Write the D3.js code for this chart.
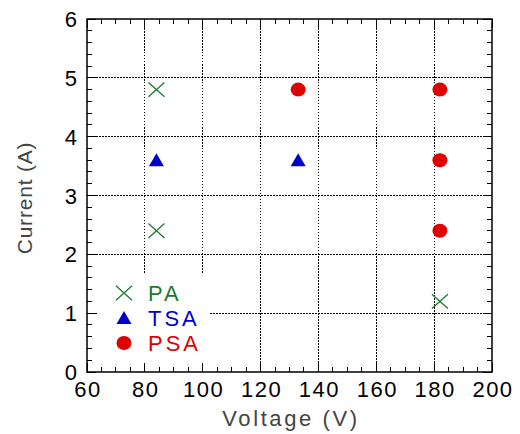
<!DOCTYPE html>
<html><head><meta charset="utf-8">
<script src="https://cdn.jsdelivr.net/npm/d3@7"></script>
<style>html,body{margin:0;padding:0;background:#fff;}svg{display:block;}</style>
</head><body>
<svg id="c" width="520" height="434"></svg>
<script>
const paV = [84, 84, 182];
const paI = [4.8, 2.4, 1.2];
const tsaV = [84, 133];
const tsaI = [3.6, 3.6];
const psaV = [133, 182, 182, 182];
const psaI = [4.8, 4.8, 3.6, 2.4];
const xTicks = [60, 80, 100, 120, 140, 160, 180, 200];
const yTicks = [0, 1, 2, 3, 4, 5, 6];
const legendNames = ["PA", "TSA", "PSA"];

const svg = d3.select("#c");
const L = 87, R = 492, T = 19, B = 372;
const x = d3.scaleLinear().domain([60, 200]).range([L, R]);
const y = d3.scaleLinear().domain([0, 6]).range([B, T]);
const font = "'Liberation Sans', Arial, sans-serif";

// grid
const g = svg.append("g");
g.selectAll(".gx").data(xTicks.slice(1, -1)).enter().append("line")
  .attr("x1", d => x(d)).attr("x2", d => x(d)).attr("y1", T).attr("y2", B)
  .attr("stroke", "#000").attr("stroke-width", 1).attr("stroke-dasharray", "1.5,1.5").attr("shape-rendering", "crispEdges");
g.selectAll(".gy").data(yTicks.slice(1, -1)).enter().append("line")
  .attr("x1", L).attr("x2", R).attr("y1", d => y(d)).attr("y2", d => y(d))
  .attr("stroke", "#000").attr("stroke-width", 1).attr("stroke-dasharray", "1.5,1.5").attr("shape-rendering", "crispEdges");

// legend background
svg.append("rect").attr("x", 97).attr("y", 273).attr("width", 113).attr("height", 93).attr("fill", "#fff");

// axes with inward ticks
function axisTicks() {
  const minorX = d3.range(60, 200.01, 5);
  const minorY = d3.range(0, 6.001, 0.2);
  const t = svg.append("g").attr("stroke", "#000").attr("stroke-width", 1).attr("shape-rendering", "crispEdges");
  minorX.forEach(v => {
    const major = Math.abs(v % 20) < 1e-6;
    const len = major ? 9 : 5;
    t.append("line").attr("x1", x(v)).attr("x2", x(v)).attr("y1", B).attr("y2", B - len);
    t.append("line").attr("x1", x(v)).attr("x2", x(v)).attr("y1", T).attr("y2", T + len);
  });
  minorY.forEach(v => {
    const major = Math.abs(v - Math.round(v)) < 1e-6;
    const len = major ? 9 : 5;
    t.append("line").attr("y1", y(v)).attr("y2", y(v)).attr("x1", L).attr("x2", L + len);
    t.append("line").attr("y1", y(v)).attr("y2", y(v)).attr("x1", R).attr("x2", R - len);
  });
}
axisTicks();
svg.append("rect").attr("x", L).attr("y", T).attr("width", R - L).attr("height", B - T)
  .attr("fill", "none").attr("stroke", "#000").attr("stroke-width", 1.5);

// tick labels
svg.selectAll(".xl").data(xTicks).enter().append("text")
  .attr("x", d => x(d) + 1).attr("y", 397).attr("text-anchor", "middle")
  .attr("font-family", font).attr("font-size", 22).attr("letter-spacing", 1.5).attr("fill", "#000").text(d => d);
svg.selectAll(".yl").data(yTicks).enter().append("text")
  .attr("x", 77).attr("y", d => y(d) + 8).attr("text-anchor", "end")
  .attr("font-family", font).attr("font-size", 22).attr("fill", "#000").text(d => d);

// axis titles
svg.append("text").attr("x", 291).attr("y", 426).attr("text-anchor", "middle")
  .attr("font-family", font).attr("font-size", 22).attr("letter-spacing", 2.6).attr("fill", "#444").text("Voltage (V)");
svg.append("text").attr("transform", "translate(32,198) rotate(-90)").attr("text-anchor", "middle")
  .attr("font-family", font).attr("font-size", 21).attr("letter-spacing", 0.8).attr("fill", "#444").text("Current (A)");

const green = "#1e7a32", blue = "#0000cc", red = "#e00000";
function cross(sel, cx, cy) {
  const s = 8;
  sel.append("path").attr("d", `M${cx - s},${cy - s * 0.9}L${cx + s},${cy + s * 0.9}M${cx - s},${cy + s * 0.9}L${cx + s},${cy - s * 0.9}`)
    .attr("stroke", green).attr("stroke-width", 1.3).attr("fill", "none");
}
function tri(sel, cx, cy) {
  sel.append("path").attr("d", `M${cx},${cy - 7}L${cx + 7.5},${cy + 6}L${cx - 7.5},${cy + 6}Z`).attr("fill", blue);
}
function dot(sel, cx, cy) {
  sel.append("ellipse").attr("cx", cx).attr("cy", cy).attr("rx", 7.5).attr("ry", 7).attr("fill", red);
}
const m = svg.append("g");
paV.forEach((v, i) => cross(m, x(v), y(paI[i])));
tsaV.forEach((v, i) => tri(m, x(v), y(tsaI[i])));
psaV.forEach((v, i) => dot(m, x(v), y(psaI[i])));

// legend
const lg = svg.append("g");
const cols = [green, blue, red];
const fns = [cross, tri, dot];
legendNames.forEach((n, i) => {
  const cy = 293 + i * 25;
  fns[i](lg, 124, cy);
  lg.append("text").attr("x", 148).attr("y", cy + 8).attr("font-family", font).attr("font-size", 22)
    .attr("letter-spacing", 3).attr("fill", cols[i]).text(n);
});
</script>
</body></html>
